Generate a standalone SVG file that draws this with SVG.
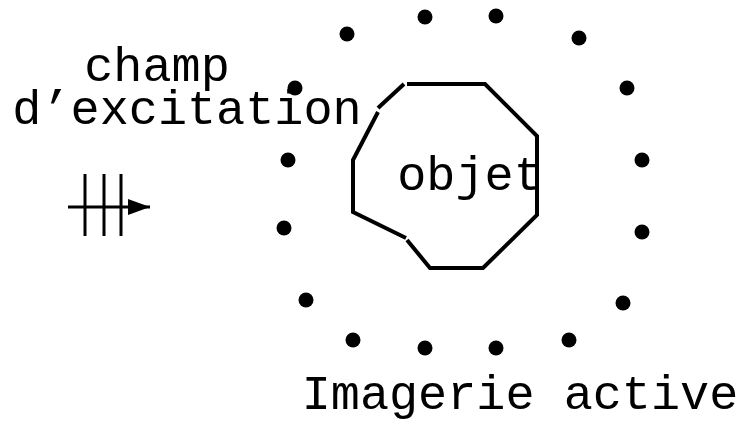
<svg xmlns="http://www.w3.org/2000/svg" width="740" height="430" viewBox="0 0 740 430">
<style>
.t{font-family:"Liberation Mono","DejaVu Sans Mono",monospace;font-size:48.5px;fill:#000;text-anchor:middle}
.ln{stroke:#000;stroke-width:4;fill:none;stroke-linecap:butt}
.ar{stroke:#000;stroke-width:3;fill:none}
</style>
<defs>
<marker id="ah" markerWidth="24" markerHeight="16" refX="22" refY="8" orient="auto" markerUnits="userSpaceOnUse">
<path d="M0,0 L22,8 L0,16 Z" fill="#000"/>
</marker>
</defs>
<rect width="740" height="430" fill="#fff"/>
<g id="sensors" fill="#000">
<circle cx="425" cy="17" r="7.5"/>
<circle cx="496" cy="16" r="7.5"/>
<circle cx="347" cy="34" r="7.5"/>
<circle cx="579" cy="38" r="7.5"/>
<circle cx="295" cy="88" r="7.5"/>
<circle cx="627" cy="88" r="7.5"/>
<circle cx="288" cy="160" r="7.5"/>
<circle cx="642" cy="160" r="7.5"/>
<circle cx="284" cy="228" r="7.5"/>
<circle cx="642" cy="232" r="7.5"/>
<circle cx="306" cy="300" r="7.5"/>
<circle cx="623" cy="303" r="7.5"/>
<circle cx="353" cy="340" r="7.5"/>
<circle cx="569" cy="340" r="7.5"/>
<circle cx="425" cy="348" r="7.5"/>
<circle cx="496" cy="348" r="7.5"/>
</g>
<g id="objet">
<path class="ln" d="M407,84 L485,84 L537,136 L537,215 L483,268 L430,268 L407,240"/>
<path class="ln" d="M406,238 L353,212 L353,160 L378,112"/>
<path class="ln" d="M404,84 L378,108"/>
<text class="t" x="470" y="190">objet</text>
</g>
<g id="champ">
<text class="t" x="157" y="81">champ</text>
<text class="t" x="187" y="124">d’excitation</text>
</g>
<g id="connectors">
<line class="ar" x1="68" y1="207" x2="150" y2="207" marker-end="url(#ah)"/>
<line class="ar" x1="85" y1="174" x2="85" y2="236"/>
<line class="ar" x1="104" y1="174" x2="104" y2="236"/>
<line class="ar" x1="121" y1="174" x2="121" y2="236"/>
</g>
<g id="titre">
<text class="t" x="520" y="409">Imagerie active</text>
</g>
</svg>
